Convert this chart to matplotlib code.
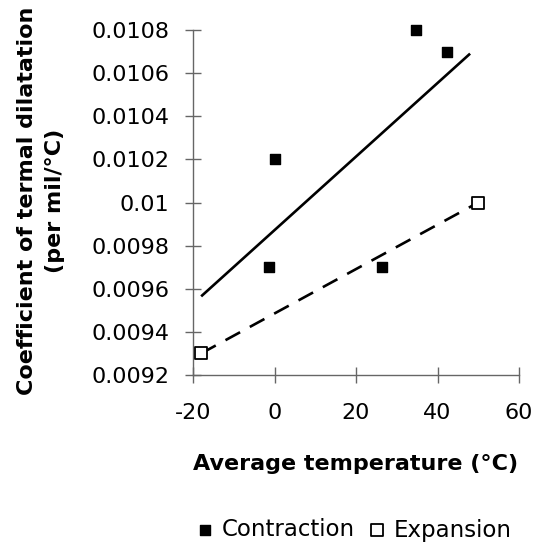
import numpy as np
import matplotlib.pyplot as plt

plt.rcParams['font.family'] = ['DejaVu Sans']
plt.rcParams['axes.unicode_minus'] = False

# ─── Data ─────────────────────────────────────────────────────────────
contraction_t = [-1.4, 0.0, 26.3, 34.8, 42.4]
contraction_c = [0.0097, 0.0102, 0.0097, 0.0108, 0.0107]
expansion_t = [-18.0, 50.0]
expansion_c = [0.0093, 0.0100]
trend_range = [-18.0, 48.0]

x_ticks = [-20, 0, 20, 40, 60]
y_ticks = [0.0092, 0.0094, 0.0096, 0.0098, 0.01, 0.0102, 0.0104, 0.0106, 0.0108]
y_ticklabels = ['0.0092', '0.0094', '0.0096', '0.0098', '0.01',
                '0.0102', '0.0104', '0.0106', '0.0108']

# ─── Figure ───────────────────────────────────────────────────────────
W, H = 536, 544
fig = plt.figure(figsize=(W / 100, H / 100), dpi=100)
ax = fig.add_axes([193/W, 1 - 375/H, 326/W, 345/H])

# linear trendline for contraction
k, b = np.polyfit(contraction_t, contraction_c, 1)
tx = np.array(trend_range)
ax.plot(tx, k * tx + b, color='black', lw=1.9, solid_capstyle='butt')
ax.plot(expansion_t, expansion_c, color='black', lw=1.9, ls=(0, (6.3, 4.2)))

ax.scatter(contraction_t, contraction_c, marker='s', s=50, color='black',
           zorder=3, clip_on=False, label='Contraction')
ax.scatter(expansion_t, expansion_c, marker='s', s=85, facecolor='white',
           edgecolor='black', lw=1.3, zorder=3, clip_on=False, label='Expansion')

ax.set_xlim(-20, 60)
ax.set_ylim(0.0092, 0.0108)
ax.set_xticks(x_ticks)
ax.set_yticks(y_ticks)
ax.set_yticklabels(y_ticklabels)
ax.tick_params(direction='inout', length=11.5, width=1, color='#666666',
               labelsize=16)
ax.tick_params(axis='y', pad=11.5)
ax.tick_params(axis='x', pad=14.5)
for s in ['top', 'right']:
    ax.spines[s].set_visible(False)
for s in ['left', 'bottom']:
    ax.spines[s].set_color('#666666')
    ax.spines[s].set_linewidth(1)

# axis titles
fig.text(356/W, 1 - 464/H, 'Average temperature (°C)', fontsize=16,
         fontweight='bold', ha='center', va='center')
fig.text(41/W, 1 - 201/H, 'Coefficient of termal dilatation\n(per mil/°C)',
         fontsize=16, fontweight='bold', ha='center', va='center',
         rotation=90, linespacing=1.55)

ax.legend(loc='center', bbox_to_anchor=(354/W, 1 - 530/H),
          bbox_transform=fig.transFigure, ncol=2, frameon=False,
          fontsize=16.5, handletextpad=0.35, columnspacing=0.55,
          handlelength=0.8, borderpad=0, borderaxespad=0)

fig.savefig('out.png', dpi=100)
